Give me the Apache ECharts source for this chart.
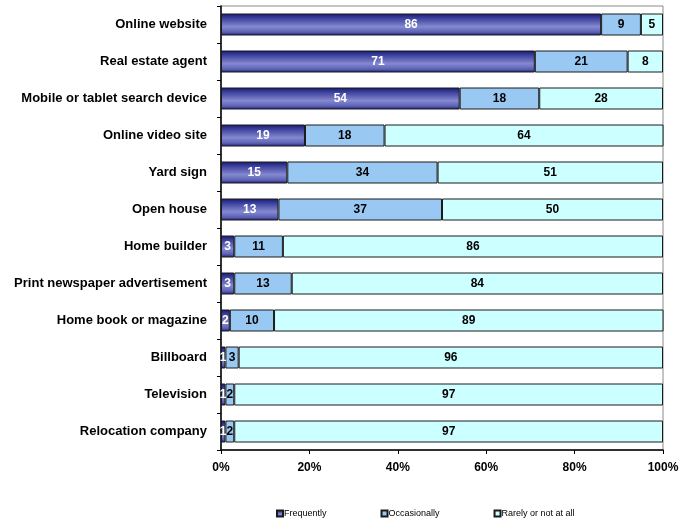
<!DOCTYPE html>
<html>
<head>
<meta charset="utf-8">
<script src="https://cdn.jsdelivr.net/npm/echarts@6/dist/echarts.min.js"></script>
<style>
  html, body { margin: 0; padding: 0; background: #fff; }
  #chart { width: 693px; height: 520px; }
</style>
</head>
<body>
<div id="chart"></div>
<script>
// Sources used when searching for a home, share of respondents (%)
const categories = [
  'Online website', 'Real estate agent', 'Mobile or tablet search device',
  'Online video site', 'Yard sign', 'Open house', 'Home builder',
  'Print newspaper advertisement', 'Home book or magazine', 'Billboard',
  'Television', 'Relocation company'
];
const frequently   = [86, 71, 54, 19, 15, 13, 3, 3, 2, 1, 1, 1];
const occasionally = [9, 21, 18, 18, 34, 37, 11, 13, 10, 3, 2, 2];
const rarely       = [5, 8, 28, 64, 51, 50, 86, 84, 89, 96, 97, 97];
const seriesNames  = ['Frequently', 'Occasionally', 'Rarely or not at all'];
const xTicks = [0, 20, 40, 60, 80, 100];

const font = 'Liberation Sans, Arial, sans-serif';

const navyGradient = new echarts.graphic.LinearGradient(0, 0, 0, 1, [
  { offset: 0, color: '#15186a' },
  { offset: 0.2, color: '#3a3f9c' },
  { offset: 0.6, color: '#8589cf' },
  { offset: 0.85, color: '#5c61b5' },
  { offset: 1, color: '#1a1d72' }
]);

function barSeries(name, values, fill, labelColor) {
  return {
    name: name,
    type: 'bar',
    stack: 'total',
    barWidth: 22,
    data: values,
    itemStyle: { color: fill, borderColor: '#1a1a1a', borderWidth: 1 },
    label: {
      show: true,
      position: 'inside',
      color: labelColor,
      fontFamily: font,
      fontWeight: 'bold',
      fontSize: 12,
      formatter: p => p.value
    },
    emphasis: { disabled: true }
  };
}

const chart = echarts.init(document.getElementById('chart'), null, { renderer: 'canvas' });
chart.setOption({
  animation: false,
  grid: {
    left: 221, right: 30, top: 6, bottom: 70,
    show: true, borderColor: '#8a8a8a', borderWidth: 1, backgroundColor: 'transparent'
  },
  legend: {
    top: 504,
    left: 271,
    itemGap: 54,
    itemWidth: 6,
    itemHeight: 6,
    icon: 'rect',
    textStyle: { fontFamily: font, fontSize: 9, color: '#000', padding: [0, 0, 0, -4] },
    data: seriesNames
  },
  xAxis: {
    type: 'value',
    min: 0, max: 100, interval: 20,
    axisLine: { show: true, lineStyle: { color: '#000', width: 1.5 } },
    axisTick: { show: true, length: 4, lineStyle: { color: '#000' } },
    splitLine: { show: false },
    axisLabel: {
      fontFamily: font, fontWeight: 'bold', fontSize: 12, color: '#000', margin: 12,
      formatter: v => (xTicks.indexOf(v) >= 0 ? v + '%' : '')
    }
  },
  yAxis: {
    type: 'category',
    inverse: true,
    data: categories,
    axisLine: { show: true, lineStyle: { color: '#000', width: 1.5 } },
    axisTick: { show: true, length: 4, lineStyle: { color: '#000' } },
    axisLabel: {
      fontFamily: font, fontWeight: 'bold', fontSize: 13, color: '#000', margin: 14
    }
  },
  series: [
    barSeries(seriesNames[0], frequently, navyGradient, '#fff'),
    barSeries(seriesNames[1], occasionally, '#99c8f2', '#000'),
    barSeries(seriesNames[2], rarely, '#ccffff', '#000')
  ]
});
</script>
</body>
</html>
